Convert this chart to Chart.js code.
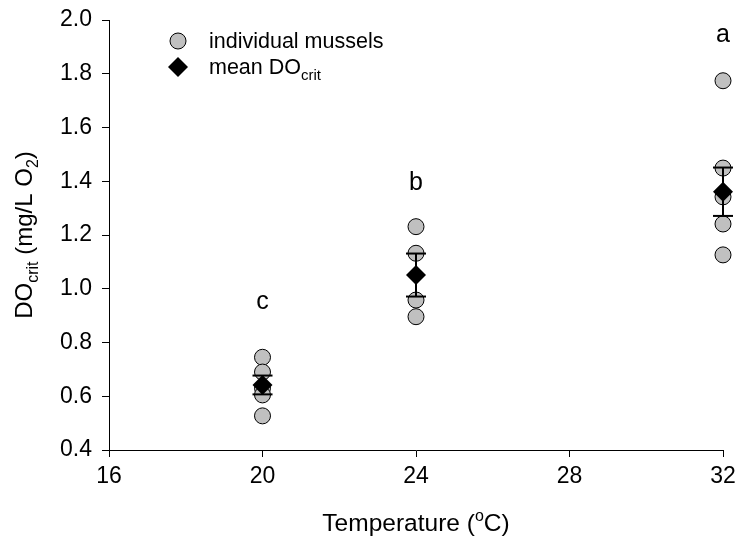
<!DOCTYPE html>
<html>
<head>
<meta charset="utf-8">
<script src="https://cdn.jsdelivr.net/npm/chart.js@4"></script>
<style>
html,body{margin:0;padding:0;background:#fff;}
canvas{display:block;}
</style>
</head>
<body>
<canvas id="c" width="737" height="539"></canvas>
<script>
// ---- data ----
const temps = [20, 24, 32];
const mussels20 = [0.745, 0.69, 0.63, 0.605, 0.527];
const mussels24 = [1.231, 1.132, 0.958, 0.896];
const mussels32 = [1.774, 1.449, 1.342, 1.241, 1.126];
const means = [0.642, 1.051, 1.361];
const stdErr = [0.035, 0.08, 0.09];
const letters = ['c', 'b', 'a'];
const letterY = [0.951, 1.393, 1.944];
const xTicks = [16, 20, 24, 28, 32];
const yTicks = [0.4, 0.6, 0.8, 1.0, 1.2, 1.4, 1.6, 1.8, 2.0];

const FONT = '"Liberation Sans", Arial, sans-serif';

const individualPts = [];
[mussels20, mussels24, mussels32].forEach((arr, i) => arr.forEach(v => individualPts.push({x: temps[i], y: v})));
const meanPts = temps.map((t, i) => ({x: t, y: means[i]}));
const barLine = [];
const capPts = [];
temps.forEach((t, i) => {
  barLine.push({x: t, y: means[i] - stdErr[i]});
  barLine.push({x: t, y: means[i] + stdErr[i]});
  barLine.push({x: t, y: null});
  capPts.push({x: t, y: means[i] - stdErr[i]});
  capPts.push({x: t, y: means[i] + stdErr[i]});
});

const decorPlugin = {
  id: 'decor',
  afterDatasetsDraw(chart) {
    const ctx = chart.ctx;
    const xs = chart.scales.x, ys = chart.scales.y;
    ctx.save();
    ctx.fillStyle = '#000';
    // significance letters
    ctx.font = '25px ' + FONT;
    ctx.textAlign = 'center';
    ctx.textBaseline = 'middle';
    letters.forEach((l, i) => {
      ctx.fillText(l, xs.getPixelForValue(temps[i]), ys.getPixelForValue(letterY[i]));
    });
    // legend
    const lx = 178;
    ctx.beginPath();
    ctx.arc(lx, 41, 8, 0, Math.PI * 2);
    ctx.fillStyle = '#c0c0c0';
    ctx.fill();
    ctx.lineWidth = 1;
    ctx.strokeStyle = '#000';
    ctx.stroke();
    ctx.beginPath();
    ctx.moveTo(lx - 10, 67); ctx.lineTo(lx, 57); ctx.lineTo(lx + 10, 67); ctx.lineTo(lx, 77); ctx.closePath();
    ctx.fillStyle = '#000';
    ctx.fill();
    ctx.textAlign = 'left';
    ctx.textBaseline = 'alphabetic';
    ctx.font = '21.5px ' + FONT;
    ctx.fillText('individual mussels', 209, 48);
    ctx.fillText('mean DO', 209, 74);
    const w = ctx.measureText('mean DO').width;
    ctx.font = '15px ' + FONT;
    ctx.fillText('crit', 209 + w, 80);
    // x title
    const t1 = 'Temperature (', t2 = 'o', t3 = 'C)';
    ctx.font = '24.5px ' + FONT; const w1 = ctx.measureText(t1).width;
    ctx.font = '16px ' + FONT; const w2 = ctx.measureText(t2).width;
    ctx.font = '24.5px ' + FONT; const w3 = ctx.measureText(t3).width;
    let sx = (xs.left + xs.right) / 2 - (w1 + w2 + w3) / 2;
    const by = 531;
    ctx.font = '24.5px ' + FONT; ctx.fillText(t1, sx, by); sx += w1;
    ctx.font = '16px ' + FONT; ctx.fillText(t2, sx, by - 10); sx += w2;
    ctx.font = '24.5px ' + FONT; ctx.fillText(t3, sx, by);
    // y title (rotated)
    ctx.save();
    ctx.translate(32, (ys.top + ys.bottom) / 2);
    ctx.rotate(-Math.PI / 2);
    const parts = [['DO', 24, 0], ['crit', 16, 6], [' (mg/L O', 24, 0], ['2', 16, 6], [')', 24, 0]];
    let total = 0;
    parts.forEach(p => { ctx.font = p[1] + 'px ' + FONT; total += ctx.measureText(p[0]).width; });
    let px = -total / 2;
    parts.forEach(p => {
      ctx.font = p[1] + 'px ' + FONT;
      ctx.fillText(p[0], px, p[2]);
      px += ctx.measureText(p[0]).width;
    });
    ctx.restore();
    ctx.restore();
  }
};

new Chart(document.getElementById('c'), {
  type: 'scatter',
  data: {
    datasets: [
      {
        label: 'mean DOcrit',
        data: meanPts,
        pointStyle: 'rectRot',
        pointRadius: 10,
        backgroundColor: '#000',
        borderColor: '#000',
        borderWidth: 0,
        order: 1,
        clip: false
      },
      {
        label: 'caps',
        data: capPts,
        pointStyle: 'line',
        pointRadius: 10,
        borderColor: '#000',
        borderWidth: 2,
        order: 2,
        clip: false
      },
      {
        type: 'line',
        label: 'bars',
        data: barLine,
        borderColor: '#000',
        borderWidth: 2,
        pointRadius: 0,
        spanGaps: false,
        order: 2,
        clip: false
      },
      {
        label: 'individual mussels',
        data: individualPts,
        pointStyle: 'circle',
        pointRadius: 8,
        backgroundColor: '#c0c0c0',
        borderColor: '#000',
        borderWidth: 1,
        order: 3,
        clip: false
      }
    ]
  },
  options: {
    responsive: false,
    animation: false,
    events: [],
    layout: { padding: { left: 0, right: 14, top: 20, bottom: 0 } },
    plugins: { legend: { display: false }, tooltip: { enabled: false } },
    scales: {
      x: {
        type: 'linear',
        min: 16, max: 32,
        afterFit: s => { s.height = 89; s.paddingLeft = 0; s.paddingRight = 0; },
        afterBuildTicks: s => { s.ticks = xTicks.map(v => ({value: v})); },
        ticks: { color: '#000', font: { family: FONT, size: 23 }, padding: 6, callback: v => String(v) },
        grid: { display: true, drawOnChartArea: false, drawTicks: true, tickLength: 7, color: '#000', lineWidth: 1 },
        border: { display: true, color: '#000', width: 1 }
      },
      y: {
        type: 'linear',
        min: 0.4, max: 2.0,
        afterFit: s => { s.width = 109; s.paddingTop = 0; s.paddingBottom = 0; },
        afterBuildTicks: s => { s.ticks = yTicks.map(v => ({value: v})); },
        ticks: { color: '#000', font: { family: FONT, size: 23 }, padding: 10, callback: v => Number(v).toFixed(1) },
        grid: { display: true, drawOnChartArea: false, drawTicks: true, tickLength: 7, color: '#000', lineWidth: 1 },
        border: { display: true, color: '#000', width: 1 }
      }
    }
  },
  plugins: [decorPlugin]
});
</script>
</body>
</html>
